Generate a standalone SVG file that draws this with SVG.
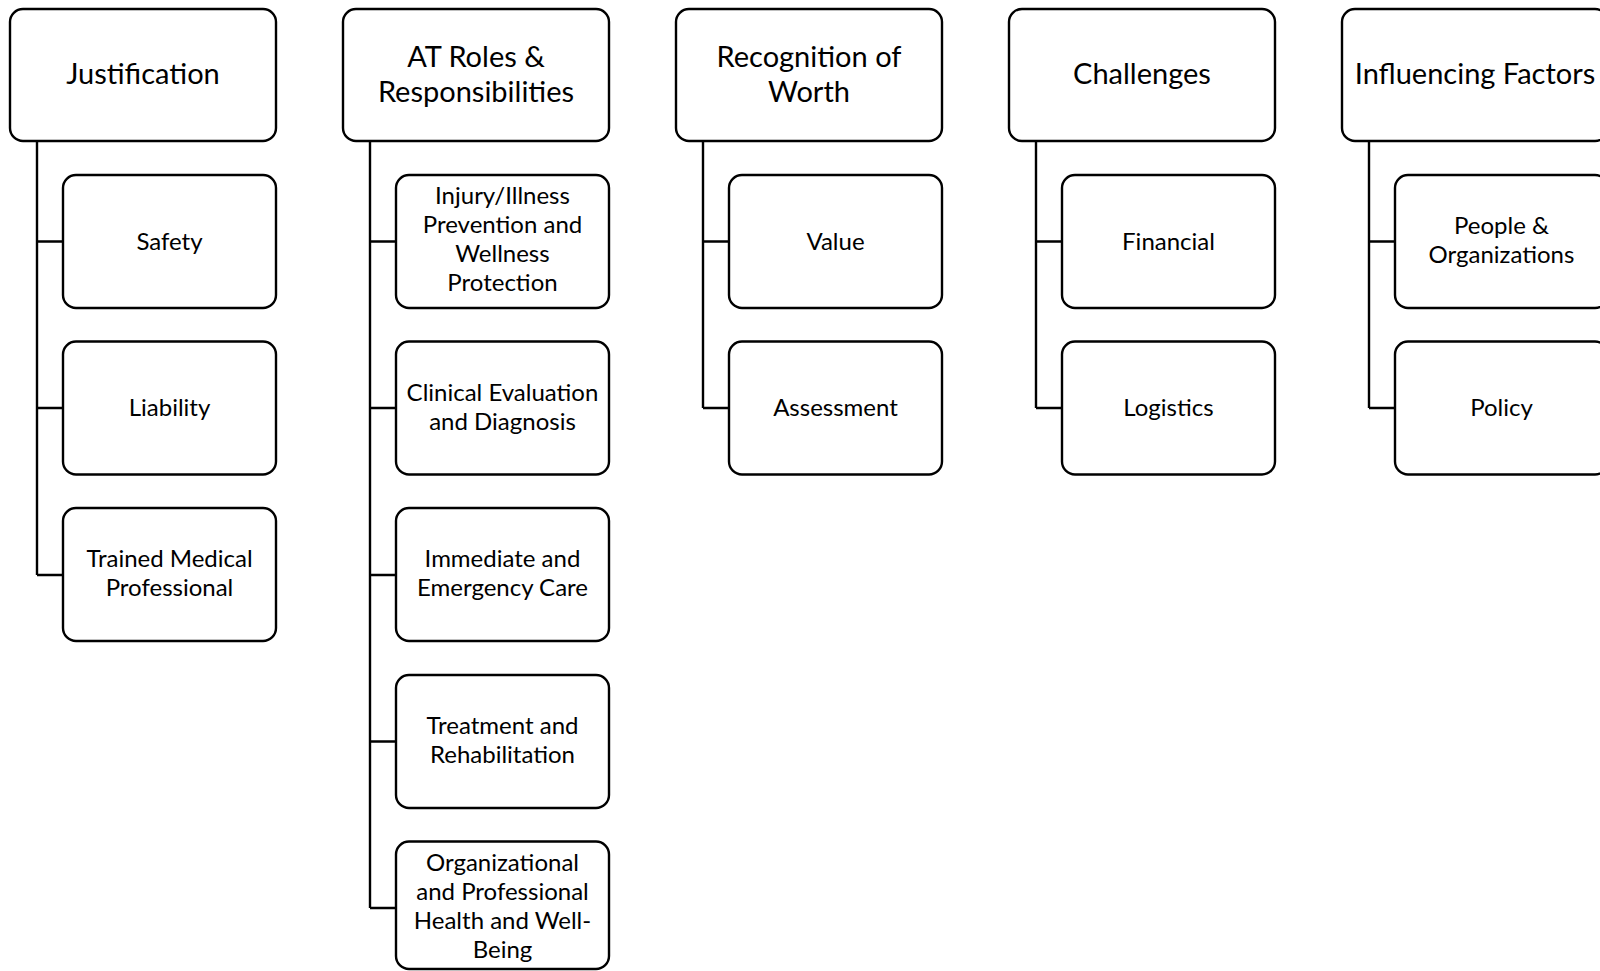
<svg xmlns="http://www.w3.org/2000/svg" width="1600" height="971" viewBox="0 0 1600 971">
<style>
.box{fill:#fff;stroke:#000;stroke-width:2.4}
.con{fill:none;stroke:#000;stroke-width:2.4}
.t{font-family:Lato,"Open Sans",sans-serif;font-size:29px;fill:#000;text-anchor:middle}
.c{font-family:Lato,"Open Sans",sans-serif;font-size:24px;fill:#000;text-anchor:middle}
</style>
<rect width="1600" height="971" fill="#fff"/>
<g id="connectors">
<path class="con" d="M37 141V575M37 241.5H63M37 408H63M37 575H63"/>
<path class="con" d="M370 141V908M370 241.5H396M370 408H396M370 575H396M370 741.5H396M370 908H396"/>
<path class="con" d="M703 141V408M703 241.5H729M703 408H729"/>
<path class="con" d="M1036 141V408M1036 241.5H1062M1036 408H1062"/>
<path class="con" d="M1369 141V408M1369 241.5H1395M1369 408H1395"/>
</g>
<g id="justification"><rect class="box" x="10" y="9" width="266" height="132" rx="13"/><text class="t" x="143" y="84">Justification</text></g>
<g id="safety"><rect class="box" x="63" y="175" width="213" height="133" rx="13"/><text class="c" x="169.5" y="249.5">Safety</text></g>
<g id="liability"><rect class="box" x="63" y="341.5" width="213" height="133" rx="13"/><text class="c" x="169.5" y="416">Liability</text></g>
<g id="trained"><rect class="box" x="63" y="508" width="213" height="133" rx="13"/><text class="c" x="169.5" y="567">Trained Medical</text><text class="c" x="169.5" y="596">Professional</text></g>

<g id="atroles"><rect class="box" x="343" y="9" width="266" height="132" rx="13"/><text class="t" x="476" y="67">AT Roles &amp;</text><text class="t" x="476" y="102">Responsibilities</text></g>
<g id="injury"><rect class="box" x="396" y="175" width="213" height="133" rx="13"/><text class="c" x="502.5" y="204">Injury/Illness</text><text class="c" x="502.5" y="233">Prevention and</text><text class="c" x="502.5" y="262">Wellness</text><text class="c" x="502.5" y="291">Protection</text></g>
<g id="clinical"><rect class="box" x="396" y="341.5" width="213" height="133" rx="13"/><text class="c" x="502.5" y="400.5">Clinical Evaluation</text><text class="c" x="502.5" y="429.5">and Diagnosis</text></g>
<g id="immediate"><rect class="box" x="396" y="508" width="213" height="133" rx="13"/><text class="c" x="502.5" y="567">Immediate and</text><text class="c" x="502.5" y="596">Emergency Care</text></g>
<g id="treatment"><rect class="box" x="396" y="675" width="213" height="133" rx="13"/><text class="c" x="502.5" y="734">Treatment and</text><text class="c" x="502.5" y="763">Rehabilitation</text></g>
<g id="organizational"><rect class="box" x="396" y="841.5" width="213" height="127.5" rx="13"/><text class="c" x="502.5" y="871">Organizational</text><text class="c" x="502.5" y="900">and Professional</text><text class="c" x="502.5" y="929">Health and Well-</text><text class="c" x="502.5" y="958">Being</text></g>

<g id="recognition"><rect class="box" x="676" y="9" width="266" height="132" rx="13"/><text class="t" x="809" y="67">Recognition of</text><text class="t" x="809" y="102">Worth</text></g>
<g id="value"><rect class="box" x="729" y="175" width="213" height="133" rx="13"/><text class="c" x="835.5" y="249.5">Value</text></g>
<g id="assessment"><rect class="box" x="729" y="341.5" width="213" height="133" rx="13"/><text class="c" x="835.5" y="416">Assessment</text></g>

<g id="challenges"><rect class="box" x="1009" y="9" width="266" height="132" rx="13"/><text class="t" x="1142" y="84">Challenges</text></g>
<g id="financial"><rect class="box" x="1062" y="175" width="213" height="133" rx="13"/><text class="c" x="1168.5" y="249.5">Financial</text></g>
<g id="logistics"><rect class="box" x="1062" y="341.5" width="213" height="133" rx="13"/><text class="c" x="1168.5" y="416">Logistics</text></g>

<g id="influencing"><rect class="box" x="1342" y="9" width="266" height="132" rx="13"/><text class="t" x="1475" y="84">Influencing Factors</text></g>
<g id="people"><rect class="box" x="1395" y="175" width="213" height="133" rx="13"/><text class="c" x="1501.5" y="234">People &amp;</text><text class="c" x="1501.5" y="263">Organizations</text></g>
<g id="policy"><rect class="box" x="1395" y="341.5" width="213" height="133" rx="13"/><text class="c" x="1501.5" y="416">Policy</text></g>
</svg>
